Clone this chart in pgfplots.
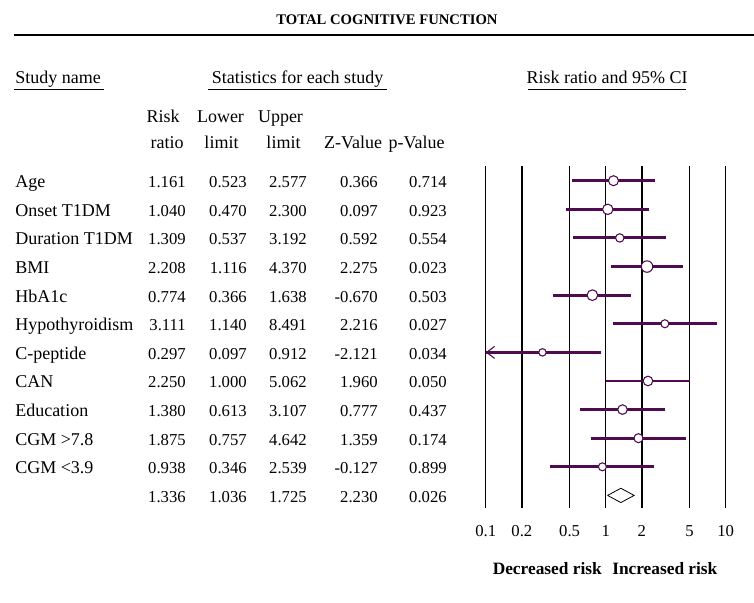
\documentclass[border=0pt]{standalone}
\usepackage{fontspec}
\setmainfont{Liberation Serif}
\usepackage{pgfplots}
\pgfplotsset{compat=1.18}
\usepackage{pgfplotstable}
\usetikzlibrary{arrows.meta}

\definecolor{plum}{RGB}{80,10,80}

% row, risk ratio, lower, upper, marker radius (pt)
\pgfplotstableread{
row rr    lo    hi    ms
1   1.161 0.523 2.577 3.75
2   1.040 0.470 2.300 3.9
3   1.309 0.537 3.192 3.15
4   2.208 1.116 4.370 4.3
5   0.774 0.366 1.638 4.0
6   3.111 1.140 8.491 3.0
7   0.297 0.097 0.912 2.8
8   2.250 1.000 5.062 3.6
9   1.380 0.613 3.107 3.6
10  1.875 0.757 4.642 3.4
11  0.938 0.346 2.539 3.0
}\studies

\newcommand\txt{\fontsize{13.5}{15}\selectfont}
\newcommand\num{\fontsize{12.5}{14}\selectfont}

\begin{document}
\begin{tikzpicture}[x=0.75pt, y=-0.75pt, every node/.style={inner sep=0pt, font=\txt}]
\useasboundingbox (0,0) rectangle (754,603);

% title and rule
\node[anchor=base, font=\fontsize{11}{12}\selectfont\bfseries] at (387,25) {TOTAL COGNITIVE FUNCTION};
\draw[line width=1.5pt] (14,35) -- (754,35);

% group headings
\node[anchor=base west] at (15,83) {Study name};
\node[anchor=base] at (297.5,83) {Statistics for each study};
\node[anchor=base] at (607,83) {Risk ratio and 95\% CI};
\draw[line width=0.75pt] (14,89) -- (104,89);
\draw[line width=0.75pt] (208,89) -- (387,89);
\draw[line width=0.75pt] (528,89) -- (686,89);

% column headings
\node[anchor=base east] at (180,122) {Risk};
\node[anchor=base east] at (184,148) {ratio};
\node[anchor=base] at (220.5,122) {Lower};
\node[anchor=base] at (221.5,148) {limit};
\node[anchor=base] at (280.5,122) {Upper};
\node[anchor=base] at (283.5,148) {limit};
\node[anchor=base] at (353,148) {Z-Value};
\node[anchor=base] at (416.5,148) {p-Value};

% statistics table
\foreach \i/\name/\rr/\lo/\hi/\z/\p in {
  1/Age/1.161/0.523/2.577/0.366/0.714,
  2/Onset T1DM/1.040/0.470/2.300/0.097/0.923,
  3/Duration T1DM/1.309/0.537/3.192/0.592/0.554,
  4/BMI/2.208/1.116/4.370/2.275/0.023,
  5/HbA1c/0.774/0.366/1.638/-0.670/0.503,
  6/Hypothyroidism/3.111/1.140/8.491/2.216/0.027,
  7/C-peptide/0.297/0.097/0.912/-2.121/0.034,
  8/CAN/2.250/1.000/5.062/1.960/0.050,
  9/Education/1.380/0.613/3.107/0.777/0.437,
  10/CGM >7.8/1.875/0.757/4.642/1.359/0.174,
  11/CGM <3.9/0.938/0.346/2.539/-0.127/0.899,
  12//1.336/1.036/1.725/2.230/0.026}{
  \pgfmathsetmacro{\yb}{187.7+(\i-1)*28.6}
  \node[anchor=base west] at (15,\yb) {\name};
  \node[anchor=base east, font=\num] at (186,\yb) {\rr};
  \node[anchor=base east, font=\num] at (247,\yb) {\lo};
  \node[anchor=base east, font=\num] at (307,\yb) {\hi};
  \node[anchor=base east, font=\num] at (378,\yb) {\z};
  \node[anchor=base east, font=\num] at (447,\yb) {\p};
}

\begin{axis}[
  at={(364.3pt,-124.5pt)}, anchor=north west,
  scale only axis, width=180pt, height=256.5pt,
  xmode=log, xmin=0.1, xmax=10,
  y dir=reverse, ymin=0.486, ymax=12.44,
  xtick={0.1,0.2,0.5,1,2,5,10},
  xticklabels={0.1,0.2,0.5,1,2,5,10},
  xticklabel style={anchor=base, yshift=-21pt, font=\num},
  ytick=\empty, minor xtick={}, log ticks with fixed point,
  major tick length=0pt,
  axis line style={draw=none},
  xmajorgrids, grid style={black, line width=1.1pt},
  clip=false,
  ci/.style={plum, line width=2.2pt, forget plot},
]
\addplot[ci] coordinates {(0.523,1) (2.577,1)};
\addplot[ci] coordinates {(0.470,2) (2.300,2)};
\addplot[ci] coordinates {(0.537,3) (3.192,3)};
\addplot[ci] coordinates {(1.116,4) (4.370,4)};
\addplot[ci] coordinates {(0.366,5) (1.638,5)};
\addplot[ci] coordinates {(1.140,6) (8.491,6)};
\addplot[ci] coordinates {(0.912,7) (0.1,7)};
\addplot[plum, line width=0.8pt, -{Straight Barb[length=6pt, width=9pt]}, forget plot] coordinates {(0.14,7) (0.1,7)};
\addplot[ci] coordinates {(1.000,8) (5.062,8)};
\addplot[ci] coordinates {(0.613,9) (3.107,9)};
\addplot[ci] coordinates {(0.757,10) (4.642,10)};
\addplot[ci] coordinates {(0.346,11) (2.539,11)};

\addplot[only marks, scatter, mark=*,
  scatter/use mapped color={draw=plum, fill=white},
  visualization depends on={\thisrow{ms} \as \msz},
  scatter/@pre marker code/.append style={/tikz/mark size=\msz pt},
  mark options={line width=0.8pt}]
  table[x=rr, y=row] {\studies};

% summary diamond
\addplot[black, line width=0.6pt, fill=white, line join=miter]
  coordinates {(1.036,12) (1.336,11.75) (1.725,12) (1.336,12.25) (1.036,12)};
\end{axis}

\node[anchor=base east, font=\fontsize{13}{15}\selectfont\bfseries] at (602,574.5) {Decreased risk};
\node[anchor=base west, font=\fontsize{13}{15}\selectfont\bfseries] at (612,574.5) {Increased risk};
\end{tikzpicture}
\end{document}
